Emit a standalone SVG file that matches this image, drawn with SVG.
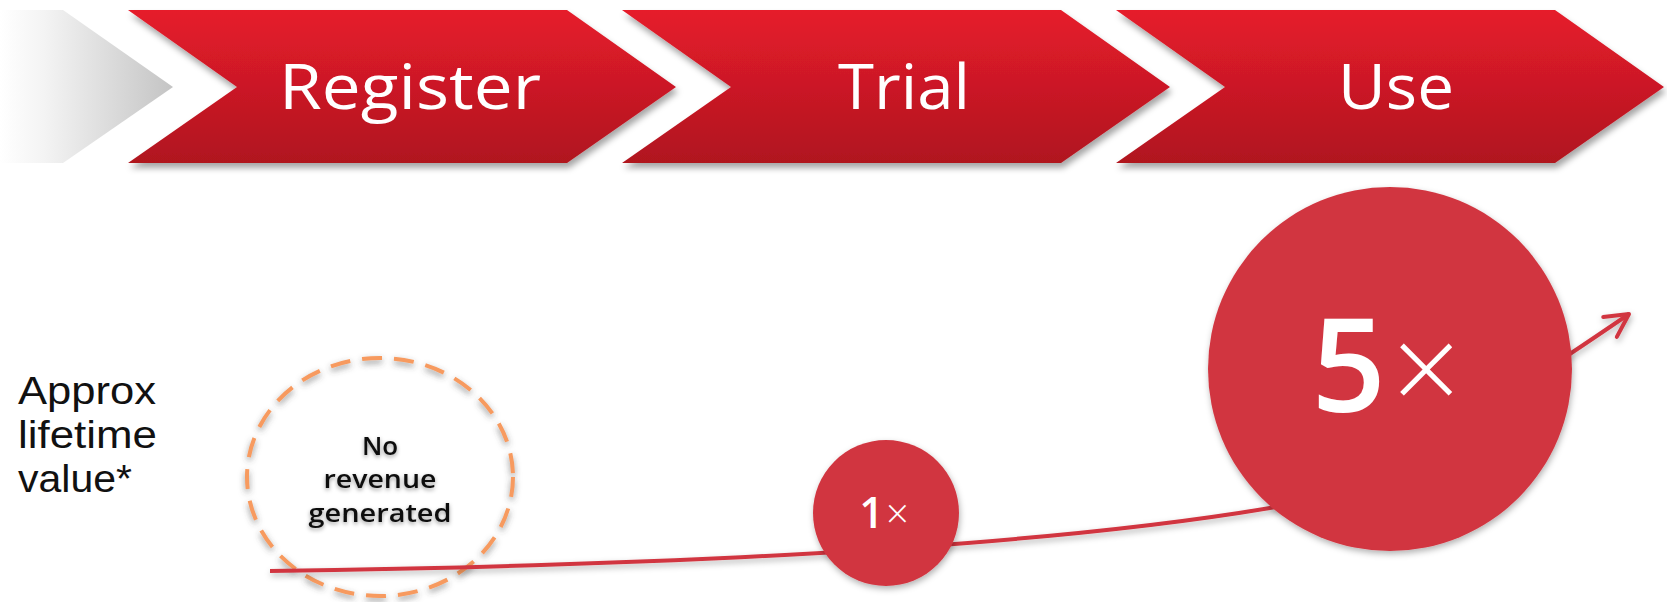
<svg xmlns="http://www.w3.org/2000/svg" width="1667" height="602" viewBox="0 0 1667 602">
  <defs>
    <linearGradient id="redStep" x1="0" y1="0" x2="0" y2="1">
      <stop offset="0" stop-color="#E61C2C"/>
      <stop offset="1" stop-color="#B0151F"/>
    </linearGradient>
    <linearGradient id="ghostStep" x1="0" y1="0" x2="1" y2="0">
      <stop offset="0" stop-color="#FFFFFF"/>
      <stop offset="0.25" stop-color="#F4F4F4"/>
      <stop offset="1" stop-color="#C4C4C4"/>
    </linearGradient>
    <filter id="stepShadow" x="-5%" y="-10%" width="110%" height="130%">
      <feDropShadow dx="2" dy="5" stdDeviation="3" flood-color="#000" flood-opacity="0.35"/>
    </filter>
    <filter id="softShadow" x="-10%" y="-10%" width="120%" height="125%">
      <feDropShadow dx="1" dy="3" stdDeviation="3" flood-color="#000" flood-opacity="0.3"/>
    </filter>
    <filter id="haloShadow" x="-10%" y="-10%" width="120%" height="125%">
      <feDropShadow dx="0" dy="3" stdDeviation="3" flood-color="#444" flood-opacity="0.6"/>
    </filter>
    <filter id="textGlow" x="-10%" y="-20%" width="120%" height="150%">
      <feDropShadow dx="0" dy="2" stdDeviation="2" flood-color="#000" flood-opacity="0.4"/>
    </filter>
    <marker id="openArrow" markerUnits="userSpaceOnUse" markerWidth="40" markerHeight="40" refX="0" refY="0" viewBox="-30 -20 40 40" orient="auto" overflow="visible">
      <path d="M-23,-12 L0,0 L-23,12" fill="none" stroke="#D13641" stroke-width="4" stroke-linecap="round" stroke-linejoin="round"/>
    </marker>
    <style>
      .step { fill: url(#redStep); filter: url(#stepShadow); }
      .stepLabel { font-family: "Open Sans", "Liberation Sans", sans-serif; font-size: 63px; fill: #FFFFFF; text-anchor: middle; }
      .sideLabel { font-family: "Liberation Sans", "Open Sans", sans-serif; font-size: 38px; fill: #111111; }
      .bubble { fill: #D13641; filter: url(#softShadow); }
      .digit { font-family: "Open Sans", "Liberation Sans", sans-serif; font-weight: 600; fill: #FFFFFF; }
      .times { font-family: "Open Sans", "Liberation Sans", sans-serif; font-weight: 300; fill: #FFFFFF; }
      .noteText { font-family: "Open Sans", "Liberation Sans", sans-serif; font-weight: 600; font-size: 26px; fill: #111111; text-anchor: middle; filter: url(#textGlow); }
    </style>
  </defs>

  <!-- faded lead-in chevron -->
  <g id="lead-in">
    <path d="M0,10 L63,10 L173,87 L63,163 L0,163 Z" fill="url(#ghostStep)"/>
  </g>

  <!-- process steps -->
  <g id="step-register">
    <path class="step" d="M128,10 L567,10 L676,87 L567,163 L128,163 L237,87 Z"/>
    <text class="stepLabel" x="410" y="109" textLength="262" lengthAdjust="spacingAndGlyphs">Register</text>
  </g>
  <g id="step-trial">
    <path class="step" d="M622,10 L1061,10 L1170,87 L1061,163 L622,163 L731,87 Z"/>
    <text class="stepLabel" x="904" y="109" textLength="132" lengthAdjust="spacingAndGlyphs">Trial</text>
  </g>
  <g id="step-use">
    <path class="step" d="M1116,10 L1555,10 L1664,87 L1555,163 L1116,163 L1225,87 Z"/>
    <text class="stepLabel" x="1396" y="109" textLength="116" lengthAdjust="spacingAndGlyphs">Use</text>
  </g>

  <!-- axis caption -->
  <g id="caption">
    <text class="sideLabel" x="18" y="404" textLength="138" lengthAdjust="spacingAndGlyphs">Approx</text>
    <text class="sideLabel" x="18" y="448" textLength="139" lengthAdjust="spacingAndGlyphs">lifetime</text>
    <text class="sideLabel" x="18" y="492" textLength="114" lengthAdjust="spacingAndGlyphs">value*</text>
  </g>

  <!-- no-revenue marker -->
  <g id="no-revenue">
    <ellipse cx="380" cy="477" rx="133" ry="119" fill="none" stroke="#F79A5E" stroke-width="4" stroke-dasharray="20 12" filter="url(#haloShadow)"/>
    <text class="noteText" x="380" y="455">No</text>
    <text class="noteText" x="380" y="488" textLength="113" lengthAdjust="spacingAndGlyphs">revenue</text>
    <text class="noteText" x="380" y="522" textLength="143" lengthAdjust="spacingAndGlyphs">generated</text>
  </g>

  <!-- value growth curve -->
  <g id="connectors">
    <path d="M270,571 C700,565 1050,545 1270,508 C1370,491 1540,375 1629,314" fill="none" stroke="#D13641" stroke-width="4" filter="url(#softShadow)" marker-end="url(#openArrow)"/>
  </g>

  <g id="value-1x">
    <circle class="bubble" cx="886" cy="513" r="73"/>
    <text x="884" y="528" text-anchor="middle"><tspan class="digit" font-size="43">1</tspan><tspan class="times" font-size="40" dx="2">×</tspan></text>
  </g>

  <g id="value-5x">
    <circle class="bubble" cx="1390" cy="369" r="182"/>
    <text x="1386" y="412" text-anchor="middle"><tspan class="digit" font-size="130">5</tspan><tspan class="times" font-size="120" dx="6">×</tspan></text>
  </g>
</svg>
